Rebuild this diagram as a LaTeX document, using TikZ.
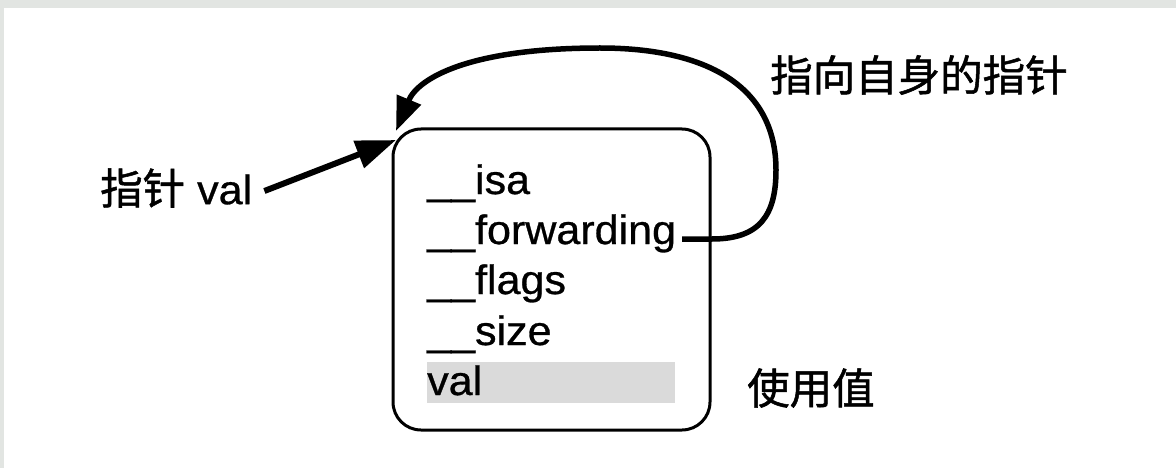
\documentclass[tikz,border=0pt]{standalone}
\usepackage{fontspec}
\setmainfont{Liberation Sans}[FakeBold=0.7,FakeStretch=1.05]
\newfontfamily\cjk{Noto Sans CJK SC}[FakeBold=1.2]
\usetikzlibrary{arrows.meta}
\definecolor{edgebg}{HTML}{E2E5E2}
\definecolor{valbg}{HTML}{DADADA}
\tikzset{
  field/.style={anchor=base west, inner sep=0pt, font=\fontsize{41}{41}\selectfont},
  cjklabel/.style={anchor=west, inner sep=0pt, font=\fontsize{42.5}{42.5}\selectfont\cjk},
  structbox/.style={draw=black, line width=3pt, rounded corners=28pt, minimum width=317pt, minimum height=301pt, inner sep=0pt},
  bigarrow/.style={line width=6pt, -{Triangle[length=40pt,width=28pt]}},
  loopline/.style={line width=5.5pt, -{Triangle[length=34pt,width=25pt]}}
}
\begin{document}
\begin{tikzpicture}[x=1pt,y=-1pt]
\useasboundingbox (0,0) rectangle (1176,468);
\fill[white] (0,0) rectangle (1176,468);
\fill[edgebg] (0,0) rectangle (1176,8);
\fill[edgebg] (0,0) rectangle (4,468);
% gray highlight behind val
\fill[valbg] (427,362) rectangle (675,403);
% the struct box
\node[structbox] (box) at (551.5,279.5) {};
% fields
\node[field] (isa) at (427,194) {\_\_isa};
\node[field] (fwd) at (427,244) {\_\_forwarding};
\node[field] (flags) at (427,294) {\_\_flags};
\node[field] (size) at (427,345) {\_\_size};
\node[field] (val) at (427,395) {val};
% labels
\node[cjklabel] (self) at (770,75) {指向自身的指针};
\node[cjklabel] (use) at (747,388) {使用值};
\node[anchor=west, inner sep=0pt, font=\fontsize{41}{41}\selectfont] (ptr) at (100,188) {{\cjk\fontsize{42.5}{42.5}\selectfont 指针} val};
% entry points
\coordinate (ptrtip) at (396,140);
\coordinate (looptip) at (396,131);
\coordinate (fwdend) at (682,239);
% arrows
\draw[bigarrow] ([xshift=12pt,yshift=-3pt]ptr.east) -- (ptrtip);
\draw[loopline] (fwdend) -- (712,239)
  .. controls (760,239) and (776,215) .. (776,170)
  .. controls (776,85) and (705,48) .. (600,48)
  .. controls (470,48) and (418,78) .. (looptip);
\end{tikzpicture}
\end{document}
